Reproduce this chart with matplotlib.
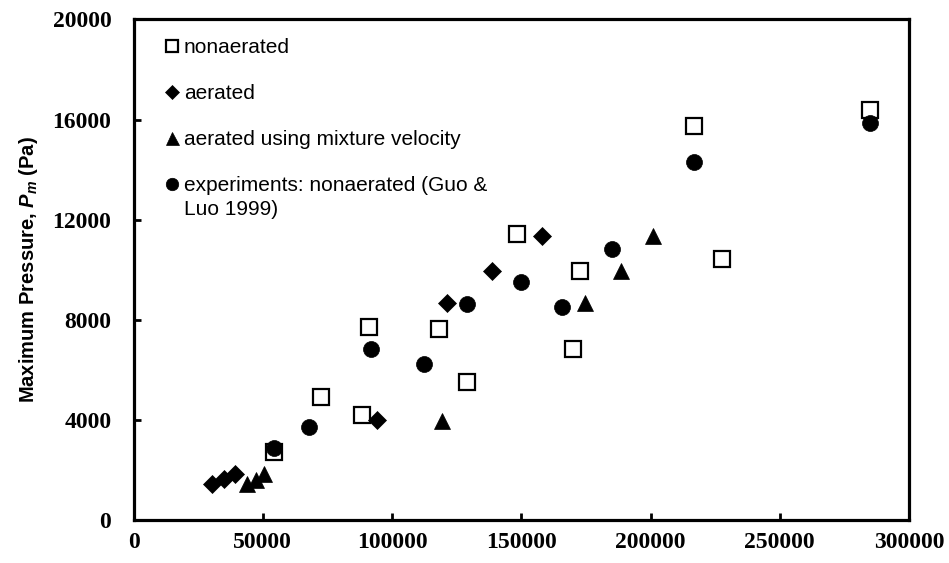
import numpy as np
import matplotlib
matplotlib.use("Agg")
import matplotlib.pyplot as plt
from matplotlib.ticker import FuncFormatter

# ── Data ──────────────────────────────────────────────────────────────
nonaer_x = [54300, 72650, 88270, 91090, 118170, 129120, 148220, 172820,
            170000, 216680, 227520, 284870]
nonaer_y = [2700, 4900, 4200, 7720, 7630, 5530, 11430, 9960,
            6830, 15760, 10430, 16380]

aer_x = [30480, 35000, 39380, 94190, 121140, 138550, 157890]
aer_y = [1440, 1630, 1840, 4000, 8680, 9950, 11360]

mix_x = [43780, 47380, 50590, 119450, 174760, 188440, 200830]
mix_y = [1430, 1600, 1830, 3970, 8660, 9960, 11350]

exp_x = [54340, 67880, 91750, 112370, 129000, 150000, 165860, 184970,
         216680, 284870]
exp_y = [2860, 3730, 6820, 6220, 8620, 9520, 8520, 10830, 14320, 15850]

labels = ["nonaerated", "aerated", "aerated using mixture velocity",
          "experiments: nonaerated (Guo &"]
label_wrap = "Luo 1999)"   # second line of the last legend entry

x_ticks = [0, 50000, 100000, 150000, 200000, 250000, 300000]
y_ticks = [0, 4000, 8000, 12000, 16000, 20000]

# ── Style ─────────────────────────────────────────────────────────────
plt.rcParams["font.family"] = ["Liberation Sans", "DejaVu Sans"]
plt.rcParams["mathtext.fontset"] = "custom"
plt.rcParams["mathtext.it"] = "Liberation Sans:bold:italic"
plt.rcParams["mathtext.rm"] = "Liberation Sans:bold"

fig = plt.figure(figsize=(9.49, 5.63), dpi=100)
ax = fig.add_axes([0.1407, 0.0764, 0.8172, 0.8890])

ax.plot(nonaer_x, nonaer_y, ls="none", marker="s", ms=11.5, mfc="white",
        mec="black", mew=1.6, label=labels[0])
ax.plot(aer_x, aer_y, ls="none", marker="D", ms=9.2, mfc="black",
        mec="black", mew=0.5, label=labels[1])
ax.plot(mix_x, mix_y, ls="none", marker="^", ms=12, mfc="black",
        mec="black", mew=0.5, label=labels[2])
ax.plot(exp_x, exp_y, ls="none", marker="o", ms=11.5, mfc="black",
        mec="black", mew=0.5, label=labels[3])

ax.set_xlim(0, 300000)
ax.set_ylim(0, 20000)
ax.set_xticks(x_ticks)
ax.set_yticks(y_ticks)
ax.xaxis.set_major_formatter(FuncFormatter(lambda v, p: f"{int(v)}"))
ax.yaxis.set_major_formatter(FuncFormatter(lambda v, p: f"{int(v)}"))

for spine in ax.spines.values():
    spine.set_linewidth(2.3)
ax.tick_params(direction="in", length=5, width=2, color="black")
ax.tick_params(axis="x", pad=9)
ax.tick_params(axis="y", pad=16)
for lbl in ax.get_xticklabels() + ax.get_yticklabels():
    lbl.set_fontfamily("Liberation Serif")
    lbl.set_fontweight("bold")
    lbl.set_fontsize(17)

ax.set_ylabel(r"Maximum Pressure, $P_m$ (Pa)", fontsize=14.5,
              fontweight="bold")
ax.yaxis.set_label_coords(-0.12, 0.5)

leg = ax.legend(loc="upper left", bbox_to_anchor=(0.038, 0.963),
                frameon=False, fontsize=15, markerscale=0.78,
                handlelength=0.9, handletextpad=0.1, labelspacing=1.3,
                borderpad=0, borderaxespad=0)

# wrapped second line of the last entry, placed under its first line
fig.canvas.draw()
bb = leg.get_texts()[-1].get_window_extent()
x0, y0 = fig.transFigure.inverted().transform((bb.x0, bb.y0))
line_h = 1.15 * 15 / 72 * fig.dpi / fig.bbox.height
fig.text(x0, y0 - line_h, label_wrap, fontsize=15, va="bottom", ha="left")

fig.savefig("out.png", dpi=100)
